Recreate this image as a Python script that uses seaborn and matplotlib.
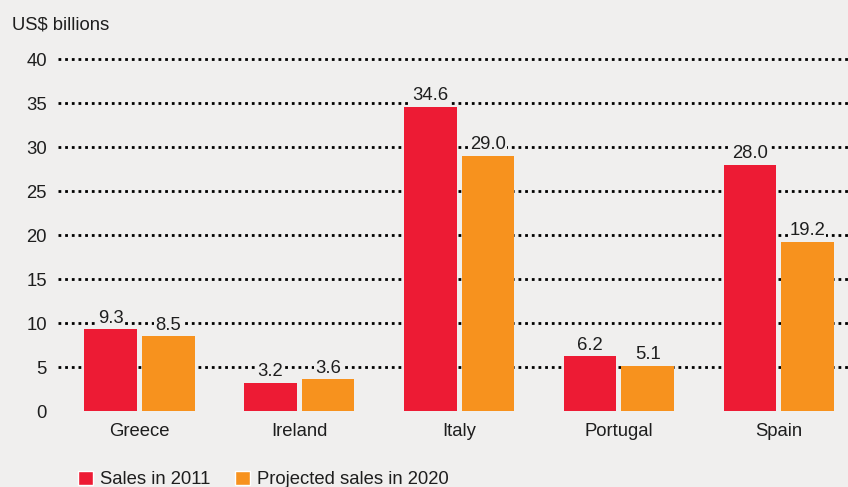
import pandas as pd
import matplotlib.pyplot as plt
import seaborn as sns
from matplotlib.patches import Patch

# Chart data
countries = ["Greece", "Ireland", "Italy", "Portugal", "Spain"]
sales_2011 = [9.3, 3.2, 34.6, 6.2, 28.0]
sales_2020 = [8.5, 3.6, 29.0, 5.1, 19.2]
series_names = ["Sales in 2011", "Projected sales in 2020"]
y_ticks = [0, 5, 10, 15, 20, 25, 30, 35, 40]

bg = "#f0efee"
red = "#ed1b34"
orange = "#f7921e"
ink = "#1e1e1e"
fs = 13.3

df = pd.DataFrame({
    "Country": countries * 2,
    "Series": [series_names[0]] * len(countries) + [series_names[1]] * len(countries),
    "Value": sales_2011 + sales_2020,
})

sns.set_style("white")
plt.rcParams["font.family"] = ["Liberation Sans", "DejaVu Sans"]

fig = plt.figure(figsize=(8.48, 4.87), dpi=100, facecolor=bg)
ax = fig.add_axes([58 / 848, 1 - 411 / 487, 1 - 58 / 848, (411 - 59) / 487])
ax.set_facecolor(bg)

sns.barplot(data=df, x="Country", y="Value", hue="Series",
            palette=[red, orange], width=0.72, gap=0.085,
            saturation=1, ax=ax, legend=False, zorder=3,
            edgecolor="none", linewidth=0)

ax.set_xlim(-0.51, 4.434)
ax.set_ylim(0, 40)
ax.set_yticks(y_ticks)
for t in y_ticks[1:]:
    ax.axhline(t, color="#000000", linestyle=(0, (1, 1.4)), linewidth=2.0,
               zorder=1, clip_on=False)

for s in ax.spines.values():
    s.set_visible(False)
ax.tick_params(axis="both", length=0, labelsize=fs, colors=ink)
ax.tick_params(axis="y", pad=8)
ax.tick_params(axis="x", pad=9)
ax.set_xlabel("")
ax.set_ylabel("")

for cont in ax.containers:
    for bar in cont:
        h = bar.get_height()
        ax.text(bar.get_x() + bar.get_width() / 2, h + 0.3, f"{h:.1f}",
                ha="center", va="bottom", fontsize=fs, color=ink, zorder=4,
                bbox=dict(facecolor=bg, edgecolor="none", pad=0.6))

fig.text(12 / 848, 1 - 25 / 487, "US$ billions", fontsize=fs, color=ink,
         ha="left", va="center")

# Legend
handles = [Patch(facecolor=red, label=series_names[0]),
           Patch(facecolor=orange, label=series_names[1])]
fig.legend(handles=handles, loc="lower left", bbox_to_anchor=(69 / 848, -0.022),
           ncol=2, frameon=False, fontsize=fs, handlelength=0.8, handleheight=0.8,
           handletextpad=0.4, columnspacing=1.3, borderpad=0, labelcolor=ink)

fig.savefig("out.png", dpi=100, facecolor=bg)
